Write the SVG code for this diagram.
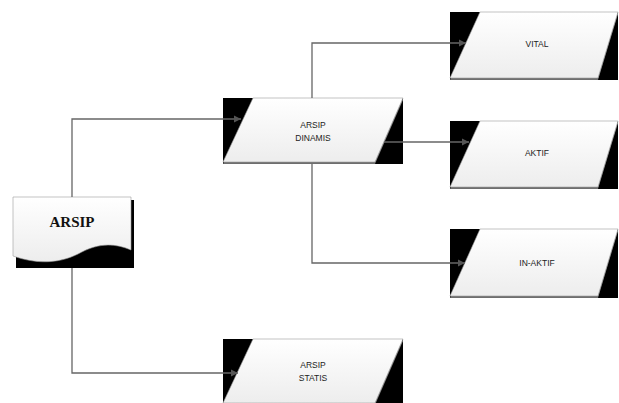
<svg xmlns="http://www.w3.org/2000/svg" width="619" height="403" viewBox="0 0 619 403">
<style>
.bk{fill:#000}
.sh{fill:#6e6e6e}
.pg{fill:url(#grad);stroke:#9a9a9a;stroke-width:0.6}
.lbl{font-family:"Liberation Sans",Arial,sans-serif;font-size:8.5px;fill:#222;text-anchor:middle}
.ttl{font-family:"Liberation Serif","Times New Roman",serif;font-size:15px;font-weight:bold;fill:#111;text-anchor:middle}
.cn{fill:none;stroke:#666;stroke-width:1.3}
</style>
<defs>
<linearGradient id="grad" x1="0" y1="0" x2="0" y2="1">
<stop offset="0" stop-color="#ffffff"/>
<stop offset="1" stop-color="#ededed"/>
</linearGradient>
<marker id="arr" markerWidth="10" markerHeight="10" refX="8" refY="5" orient="auto" markerUnits="userSpaceOnUse">
<path d="M1,1.5 L8,5 L1,8.5 Z" fill="#555"/>
</marker>
</defs>
<g id="arsip">
<rect class="bk" x="16" y="200" width="118" height="68"/>
<path d="M13,197 H131 V250 C112,242 96,244 78,254 C58,264 36,264 13,256 Z" fill="url(#grad)" stroke="#9a9a9a" stroke-width="0.6"/>
<text class="ttl" x="72" y="227">ARSIP</text>
</g>
<g id="dinamis">
<rect class="bk" x="223" y="98" width="180" height="66"/>
<polygon class="sh" points="253,100 403,100 375,164 223,164"/>
<polygon class="pg" points="253,98 403,98 375,162 223,162"/>
<text class="lbl" x="313" y="128">ARSIP</text>
<text class="lbl" x="313" y="141">DINAMIS</text>
</g>
<g id="statis">
<rect class="bk" x="223" y="339" width="180" height="66"/>
<polygon class="sh" points="253,341 403,341 375,405 223,405"/>
<polygon class="pg" points="253,339 403,339 375,403 223,403"/>
<text class="lbl" x="313" y="368">ARSIP</text>
<text class="lbl" x="313" y="381">STATIS</text>
</g>
<g id="vital">
<rect class="bk" x="450" y="12" width="168" height="68"/>
<polygon class="sh" points="480,14 618,14 598,80 450,80"/>
<polygon class="pg" points="480,12 618,12 598,78 450,78"/>
<text class="lbl" x="537" y="47">VITAL</text>
</g>
<g id="aktif">
<rect class="bk" x="450" y="121" width="168" height="68"/>
<polygon class="sh" points="480,123 618,123 598,189 450,189"/>
<polygon class="pg" points="480,121 618,121 598,187 450,187"/>
<text class="lbl" x="537" y="156">AKTIF</text>
</g>
<g id="inaktif">
<rect class="bk" x="450" y="229" width="168" height="69"/>
<polygon class="sh" points="480,231 618,231 598,298 450,298"/>
<polygon class="pg" points="480,229 618,229 598,296 450,296"/>
<text class="lbl" x="537" y="266">IN-AKTIF</text>
</g>
<g id="connectors">
<path class="cn" d="M72,197 V119 H241" marker-end="url(#arr)"/>
<path class="cn" d="M72,268 V373 H238" marker-end="url(#arr)"/>
<path class="cn" d="M312,98 V43 H466" marker-end="url(#arr)"/>
<path class="cn" d="M384,142 H469" marker-end="url(#arr)"/>
<path class="cn" d="M312,164 V263 H465" marker-end="url(#arr)"/>
</g>
</svg>
